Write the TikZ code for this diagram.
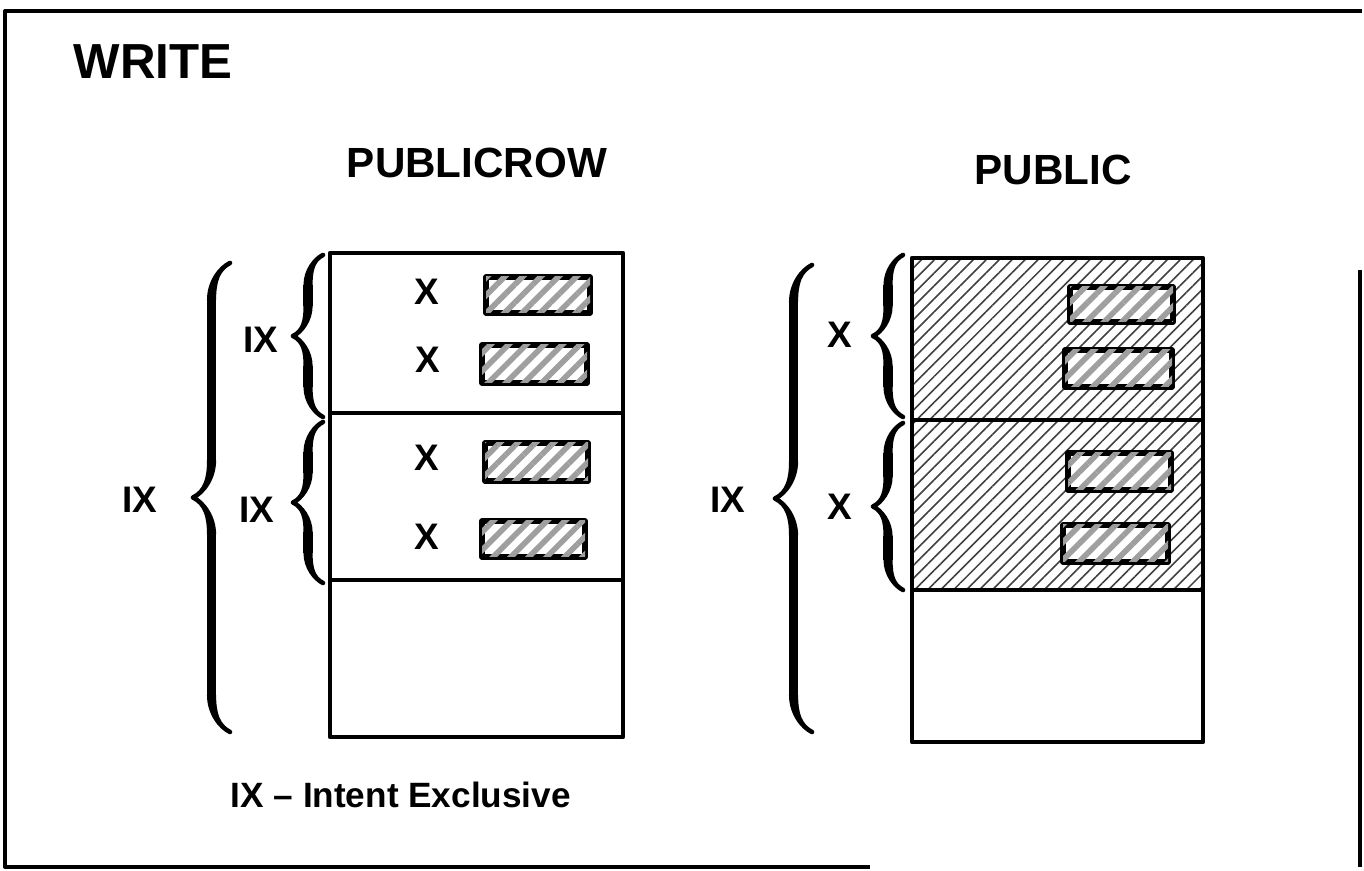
\documentclass[tikz,border=0pt]{standalone}
\usepackage{fontspec}
\setmainfont{Liberation Sans}
\usetikzlibrary{decorations.pathreplacing,calligraphy,patterns.meta}

\tikzset{
  lbl/.style={inner sep=0pt, font=\bfseries\fontsize{10.5}{12}\selectfont},
  ttl/.style={inner sep=0pt, font=\bfseries\fontsize{12}{14}\selectfont},
  rowbox/.style={draw, line width=1.5pt, fill=white,
    postaction={pattern={Lines[angle=45,distance=3.6pt,line width=1.6pt]}, pattern color=gray!75}},
  brc/.style={decorate, decoration={calligraphic brace, amplitude=#1}, line width=2.6pt},
  brc/.default=8.5pt
}

\begin{document}
\begin{tikzpicture}[x=0.01cm, y=-0.01cm, line join=round]

\useasboundingbox (0,0) rectangle (1364,871);

% Frame
\draw[line width=1.1pt] (1362,11) -- (5,11) -- (5,867) -- (870,867);
\draw[line width=1.1pt] (1360,270) -- (1360,867);

% Titles
\node[inner sep=0pt, anchor=west, font=\bfseries\fontsize{14}{16}\selectfont] (write) at (73,62) {WRITE};
\node[ttl] (prtitle) at (477,163) {PUBLICROW};
\node[ttl] (pubtitle) at (1053,170) {PUBLIC};

% PUBLICROW table
\coordinate (prTL) at (330,253);
\coordinate (prBR) at (623,737);
\draw[line width=1.2pt] (prTL) rectangle (prBR);
\draw[line width=1.2pt] (330,413) -- (623,413);
\draw[line width=1.2pt] (330,580) -- (623,580);

\draw[rowbox] (486,277) rectangle (590,313);
\draw[rowbox] (482,345) rectangle (587,383);
\draw[rowbox] (485,443) rectangle (588,481);
\draw[rowbox] (482,521) rectangle (585,557);

\node[lbl] (x1) at (427,292) {X};
\node[lbl] (x2) at (428,360) {X};
\node[lbl] (x3) at (427,458) {X};
\node[lbl] (x4) at (427,537) {X};

% PUBLIC table
\coordinate (pubTL) at (912,258);
\coordinate (pubBR) at (1203,742);
\fill[white] (912,258) rectangle (1203,590);
\path[pattern={Lines[angle=45,distance=2.6pt,line width=0.45pt]}, pattern color=black!75]
  (912,258) rectangle (1203,590);
\draw[line width=1.2pt] (pubTL) rectangle (pubBR);
\draw[line width=1.2pt] (912,420) -- (1203,420);
\draw[line width=1.2pt] (912,590) -- (1203,590);

\draw[rowbox] (1070,287) rectangle (1173,322);
\draw[rowbox] (1065,350) rectangle (1172,387);
\draw[rowbox] (1068,453) rectangle (1171,490);
\draw[rowbox] (1063,525) rectangle (1168,562);

% Braces
\draw[brc] (323,417) -- (323,255);
\draw[brc] (323,583) -- (323,422);
\draw[brc=10.5pt] (230,732) -- (230,263);

\draw[brc] (903,417) -- (903,255);
\draw[brc] (903,590) -- (903,423);
\draw[brc=10.5pt] (812,732) -- (812,265);

% Labels
\node[lbl] (ix1) at (261,340) {IX};
\node[lbl] (ix2) at (257,510) {IX};
\node[lbl] (ixall) at (140,500) {IX};

\node[lbl] (xa) at (840,335) {X};
\node[lbl] (xb) at (840,507) {X};
\node[lbl] (ixpub) at (728,500) {IX};

\node[inner sep=0pt, anchor=west, font=\bfseries\fontsize{10}{12}\selectfont] (legend) at (230,795) {IX -- Intent Exclusive};

\end{tikzpicture}
\end{document}
